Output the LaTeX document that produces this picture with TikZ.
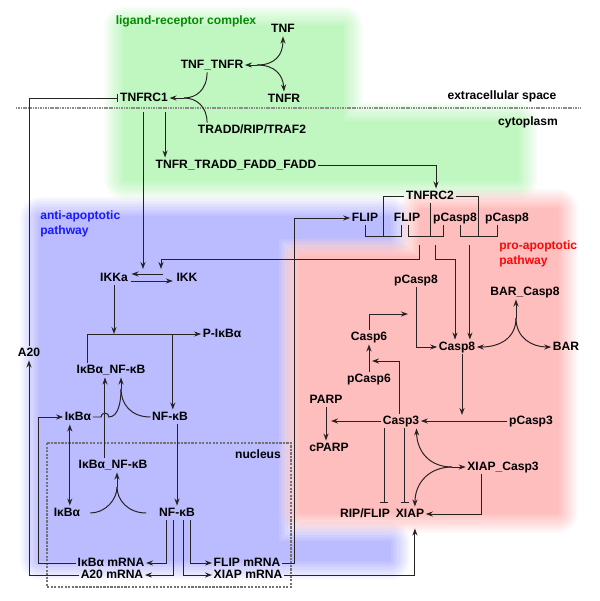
\documentclass[tikz,border=0pt]{standalone}
\usepackage{fontspec}
\setsansfont{Liberation Sans}
\usetikzlibrary{arrows.meta}

\definecolor{lrgreen}{RGB}{192,246,192}
\definecolor{apblue}{RGB}{187,187,255}
\definecolor{prored}{RGB}{255,190,190}
\definecolor{wire}{RGB}{40,35,35}
\definecolor{lrtext}{RGB}{0,140,0}
\definecolor{antitext}{RGB}{25,25,255}
\definecolor{protext}{RGB}{250,10,10}

\tikzset{
  mol/.style={font=\sffamily\bfseries\fontsize{8.6}{10}\selectfont, inner sep=1pt, text height=6.4pt, text depth=1.8pt},
  lbl/.style={font=\sffamily\bfseries\fontsize{8.6}{10.6}\selectfont, inner sep=0pt, align=left},
  conn/.style={line width=0.7pt, wire},
  arr/.style={conn, -{Stealth[length=5pt,width=3.6pt]}},
  arrs/.style={conn, {Stealth[length=5pt,width=3.6pt]}-{Stealth[length=5pt,width=3.6pt]}},
  inh/.style={conn, -{Bar[width=5.5pt]}},
  haze/.style={line join=round},
}

\begin{document}
\begin{tikzpicture}[x=0.025cm,y=-0.025cm]
\useasboundingbox (0,0) rectangle (600,601);

\foreach \w/\a in {30/0.1,27/0.111,24/0.125,21/0.143,18/0.167,15/0.2,12/0.25,9/0.333,6/0.5,3/1}
  \draw[haze, line width=\w pt, opacity=\a, lrgreen] (125,27) -- (342,27) -- (342,123) -- (517,123) -- (517,179) -- (125,179) -- cycle;
\fill[lrgreen] (125,27) -- (342,27) -- (342,123) -- (517,123) -- (517,179) -- (125,179) -- cycle;

\foreach \w/\a in {30/0.1,27/0.111,24/0.125,21/0.143,18/0.167,15/0.2,12/0.25,9/0.333,6/0.5,3/1}
  \draw[haze, line width=\w pt, opacity=\a, apblue] (41,218) -- (389,218) -- (389,237) -- (277,237) -- (277,543) -- (389,543) -- (389,559) -- (41,559) -- cycle;
\fill[apblue] (41,218) -- (389,218) -- (389,237) -- (277,237) -- (277,543) -- (389,543) -- (389,559) -- (41,559) -- cycle;

\foreach \w/\a in {30/0.1,27/0.111,24/0.125,21/0.143,18/0.167,15/0.2,12/0.25,9/0.333,6/0.5,3/1}
  \draw[haze, line width=\w pt, opacity=\a, prored] (421,210) -- (557,210) -- (557,512) -- (301,512) -- (301,258) -- (421,258) -- cycle;
\fill[prored] (421,210) -- (557,210) -- (557,512) -- (301,512) -- (301,258) -- (421,258) -- cycle;

\draw[line width=1.8pt, black!45, dash pattern=on 0.8pt off 0.4pt] (16,108) -- (580,108);
\draw[line width=0.9pt, black!55, dash pattern=on 1.6pt off 0.9pt] (47,443) rectangle (291,587);

\node[lbl, text=lrtext] (lrlabel) at (186,21) {ligand-receptor complex};
\node[lbl, text=antitext, anchor=west] (antilabel) at (40,224) {anti-apoptotic\\pathway};
\node[lbl, text=protext, anchor=west] (prolabel) at (499,254) {pro-apoptotic\\pathway};
\node[lbl] (extra) at (502,96) {extracellular space};
\node[lbl] (cyto) at (528,122) {cytoplasm};
\node[lbl] (nuclabel) at (258,454) {nucleus};

\node[mol] (tnf) at (283,29) {TNF};
\node[mol] (tnftnfr) at (212,65) {TNF\_TNFR};
\node[mol] (tnfr) at (284,99) {TNFR};
\node[mol] (tnfrcone) at (144,98) {TNFRC1};
\node[mol] (tradd) at (252,130) {TRADD/RIP/TRAF2};
\node[mol] (tnfrtradd) at (236,165) {TNFR\_TRADD\_FADD\_FADD};
\node[mol] (tnfrctwo) at (430,196) {TNFRC2};
\node[mol] (flipa) at (365,218) {FLIP};
\node[mol] (flipb) at (407,218) {FLIP};
\node[mol] (pcaspa) at (455,218) {pCasp8};
\node[mol] (pcaspb) at (507,218) {pCasp8};
\node[mol] (ikka) at (114,278) {IKKa};
\node[mol] (ikk) at (187,278) {IKK};
\node[mol] (pikba) at (222,334) {P-IκBα};
\node[mol] (a20) at (29,353) {A20};
\node[mol] (ikbnfkb) at (111,370) {IκBα\_NF-κB};
\node[mol] (ikba) at (78,417) {IκBα};
\node[mol] (nfkb) at (170,417) {NF-κB};
\node[mol] (nucikbnfkb) at (113,465) {IκBα\_NF-κB};
\node[mol] (nucikba) at (67,513) {IκBα};
\node[mol] (nucnfkb) at (177,513) {NF-κB};
\node[mol] (ikbmrna) at (111,563) {IκBα mRNA};
\node[mol] (a20mrna) at (112,575) {A20 mRNA};
\node[mol] (flipmrna) at (247,563) {FLIP mRNA};
\node[mol] (xiapmrna) at (248,575) {XIAP mRNA};
\node[mol] (pcaspc) at (416,280) {pCasp8};
\node[mol] (barcasp) at (525,292) {BAR\_Casp8};
\node[mol] (casp8) at (457,347) {Casp8};
\node[mol] (bar) at (566,347) {BAR};
\node[mol] (casp6) at (369,337) {Casp6};
\node[mol] (pcasp6) at (369,379) {pCasp6};
\node[mol] (parp) at (326,400) {PARP};
\node[mol] (cparp) at (329,448) {cPARP};
\node[mol] (casp3) at (401,421) {Casp3};
\node[mol] (pcasp3) at (531,421) {pCasp3};
\node[mol] (xiapcasp) at (503,467) {XIAP\_Casp3};
\node[mol] (ripflip) at (365,514) {RIP/FLIP};
\node[mol] (xiap) at (410,514) {XIAP};

\coordinate (jt) at (257,65);
\coordinate (jc1) at (184,98);
\coordinate (ikkcata) at (143,269);
\coordinate (ikkcatb) at (161,269);
\coordinate (jb) at (121,389);
\coordinate (jn) at (117,487);
\coordinate (c6cat) at (408,314);
\coordinate (jbar) at (516,318);
\coordinate (c8cat) at (462,415);
\coordinate (parpcat) at (331,421);
\coordinate (c6clv) at (372,361);
\coordinate (jx) at (452,467);

\draw[arr] (jt) -- (tnftnfr.east);
\draw[arr] (jt) .. controls (275,65) and (283,55) .. (tnf.south);
\draw[arr] (jt) .. controls (275,65) and (283,75) .. (tnfr.north);

\coordinate (tt) at ([xshift=-3.5pt]tnftnfr.south);
\draw[conn] (tt) .. controls (207,90) and (196,98) .. (jc1);
\draw[conn] (tt |- tradd.north) .. controls (207,106) and (196,98) .. (jc1);
\draw[arr] (jc1) -- (tnfrcone.east);

\draw[inh] (a20.north) |- (tnfrcone.west);
\draw[arr, shorten <=5pt] (tnfrcone.south -| ikkcata) -- (ikkcata);
\coordinate (tc1b) at ([xshift=15pt]tnfrcone.south);
\draw[arr, shorten <=5pt] (tc1b) -- (tc1b |- tnfrtradd.north);
\draw[arr] (tnfrtradd.east) -| ([xshift=4.3pt]tnfrctwo.north);

\draw[conn] (flipa.south) -- ++(0,11) -| coordinate[pos=0.25] (cxa) ([xshift=-4pt]flipb.south);
\draw[conn] ([xshift=1pt]flipb.south) -- ++(0,11) -| coordinate[pos=0.25] (cxb) ([xshift=-8pt]pcaspa.south);
\draw[conn] ([xshift=4pt]pcaspa.south) -- ++(0,11) -| coordinate[pos=0.25] (cxc) ([xshift=-7pt]pcaspb.south);
\draw[conn] (tnfrctwo.west) -| (cxa);
\draw[conn] (tnfrctwo.south) -- (tnfrctwo.south |- cxb);
\draw[conn] (tnfrctwo.east) -| (cxc);

\coordinate (fpout) at ([shift={(-7,9)}]cxb);
\coordinate (fcout) at ([shift={(9,9)}]cxb);
\coordinate (ppout) at ([shift={(-9,9)}]cxc);
\draw[arr] (fpout) -- ++(0,14) -| (ikkcatb);
\draw[arr] (fcout) -- ++(0,14) -| ([xshift=-1.4pt]casp8.north);
\draw[arr] (ppout) -- (ppout |- casp8.north);

\draw[arr] ([shift={(-12,-4)}]ikk.west) -- ([shift={(2,-4)}]ikka.east);
\draw[arr] ([shift={(2,3)}]ikka.east) -- ([shift={(-2,3)}]ikk.west);

\draw[arr] (ikka.south) -- (ikka.south |- pikba.west);
\coordinate (cpx) at ([xshift=-17pt]ikbnfkb.north);
\draw[arr] (cpx) |- (pikba.west);
\coordinate (nfr) at ([xshift=2pt]nfkb.north);
\draw[arr] (nfr |- pikba.west) -- (nfr);

\coordinate (exp) at ([xshift=-5.7pt]nucikbnfkb.north);
\coordinate (hop) at (exp |- ikba.east);
\draw[arr] (exp) -- (exp |- ikbnfkb.south);
\draw[arr] (jb) -- (jb |- ikbnfkb.south);
\draw[conn] (ikba.east) -- ([xshift=-2.8pt]hop) arc[start angle=180, end angle=0, radius=2.8pt] .. controls (118,417) and (121,403) .. (jb);
\draw[conn] (nfkb.west) .. controls (130,417) and (121,403) .. (jb);

\coordinate (shut) at ([xshift=2pt]nucikba.north);
\draw[arrs] (shut |- ikba.south) -- (shut);
\draw[arr] (nucnfkb.north |- nfkb.south) -- (nucnfkb.north);

\draw[arr] (jn) -- (jn |- nucikbnfkb.south);
\draw[conn, shorten <=6pt] (nucikba.east) .. controls (105,513) and (117,500) .. (jn);
\draw[conn, shorten <=8pt] (nucnfkb.west) .. controls (128,513) and (117,500) .. (jn);

\draw[arr] ([xshift=-7.8pt]nucnfkb.south) |- (ikbmrna.east);
\draw[arr] ([xshift=-2.8pt]nucnfkb.south) |- (a20mrna.east);
\draw[arr] ([xshift=4.3pt]nucnfkb.south) |- (xiapmrna.west);
\draw[arr] ([xshift=9.9pt]nucnfkb.south) |- (flipmrna.west);

\draw[arr] (ikbmrna.west) -- ++(-38,0) |- (ikba.west);
\draw[arr] (a20mrna.west) -| (a20.south);
\draw[arr] (flipmrna.east) -- ++(13,0) |- (flipa.west);
\draw[arr, shorten >=5pt] (xiapmrna.east) -| ([xshift=3.5pt]xiap.south);

\draw[arr] (pcaspc.south) |- (casp8.west);
\draw[arr] (casp6.north) |- (c6cat);
\draw[arr] (jbar) -- (jbar |- barcasp.south);
\draw[arr] (jbar) .. controls (516,338) and (500,347) .. (casp8.east);
\draw[arr] (jbar) .. controls (516,338) and (532,347) .. (bar.west);
\draw[arr] (casp8.south -| c8cat) -- (c8cat);
\draw[arr] (pcasp3.west) -- (casp3.east);
\draw[arr] (casp3.west) -- (parpcat);
\draw[arr] (parp.south) -- (parp.south |- cparp.north);
\draw[arr] ([xshift=-1.4pt]casp3.north) |- (c6clv);
\draw[arr] (pcasp6.north) -- (casp6.south);

\coordinate (c3l) at ([xshift=-12pt]casp3.south);
\coordinate (c3m) at ([xshift=2.8pt]casp3.south);
\draw[inh, shorten >=2.5pt] (c3l) -- (c3l |- ripflip.north);
\draw[inh, shorten >=2.5pt] (c3m) -- (c3m |- xiap.north);

\draw[arr] (jx) -- (xiapcasp.west);
\draw[arr] (jx) .. controls (430,467) and (417,452) .. ([xshift=11pt]casp3.south);
\draw[arr] (jx) .. controls (430,467) and (415,482) .. ([xshift=3.5pt]xiap.north);
\draw[arr] ([xshift=-15.6pt]xiapcasp.south) |- (xiap.east);
\end{tikzpicture}
\end{document}
